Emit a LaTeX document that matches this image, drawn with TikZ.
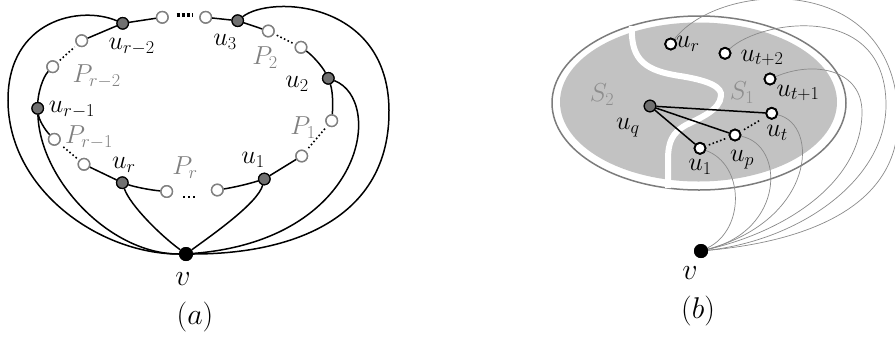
\RequirePackage{fix-cm}
\documentclass[tikz,border=0pt]{standalone}
\usepackage{tikz}
\definecolor{nodegray}{HTML}{707070}
\definecolor{pgray}{HTML}{808080}
\definecolor{sgray}{HTML}{8E8E8E}
\definecolor{regiongray}{HTML}{C2C2C2}
\definecolor{ringgray}{HTML}{7C7C7C}
\definecolor{thingray}{HTML}{8A8A8A}
\tikzset{
  openL/.style={circle, draw=pgray, fill=white, line width=1.4pt, minimum size=11.5pt, inner sep=0pt},
  filledN/.style={circle, draw=black, fill=nodegray, line width=1.2pt, minimum size=11.5pt, inner sep=0pt},
  vnode/.style={circle, fill=black, minimum size=14pt, inner sep=0pt},
  openR/.style={circle, draw=black, fill=white, line width=1.8pt, minimum size=11pt, inner sep=0pt},
  edgeB/.style={line width=1.5pt, black},
  dotB/.style={line width=1.6pt, dash pattern=on 1.6pt off 2.4pt},
  thinG/.style={line width=0.7pt, thingray},
  lab/.style={inner sep=0pt, font=\fontsize{26}{30}\selectfont},
  plab/.style={inner sep=0pt, text=pgray, font=\fontsize{26}{30}\selectfont},
  slab/.style={inner sep=0pt, text=sgray, font=\fontsize{26}{30}\selectfont},
  biglab/.style={inner sep=0pt, font=\fontsize{30}{36}\selectfont}
}
\begin{document}
\begin{tikzpicture}[x=1pt,y=-1pt]
\useasboundingbox (0,0) rectangle (895,341);
% ---------------- (a) ----------------
\node[filledN] (urm2) at (122.7,23.3) {};
\node[openL] (o1) at (162.3,17.3) {};
\node[openL] (o2) at (205.7,17.3) {};
\node[filledN] (u3) at (237.7,20.7) {};
\node[openL] (o3) at (268.3,31) {};
\node[openL] (o4) at (301,47.3) {};
\node[filledN] (u2) at (328.3,78.3) {};
\node[openL] (o5) at (331.7,120.7) {};
\node[openL] (o6) at (301.7,156) {};
\node[filledN] (u1) at (264.3,179) {};
\node[openL] (o7) at (217.3,190) {};
\node[openL] (o8) at (166.7,191.5) {};
\node[filledN] (ur) at (122.3,182.7) {};
\node[openL] (o9) at (84,164.3) {};
\node[openL] (o10) at (54.3,139.3) {};
\node[filledN] (urm1) at (37.7,108.3) {};
\node[openL] (o11) at (52.7,66.7) {};
\node[openL] (o12) at (81.7,40.7) {};
\node[vnode] (va) at (186,254) {};
\coordinate (tdA) at (176.5,15);
\coordinate (tdB) at (192,15);
\coordinate (bdA) at (183.3,196.5);
\coordinate (bdB) at (196,196.5);
% outer edges from v
\draw[edgeB] (ur) .. controls (130,205) and (160,235) .. (va);
\draw[edgeB] (u1) .. controls (258,203) and (212,235) .. (va);
\draw[edgeB] (urm1) .. controls (40,180) and (110,254) .. (va);
\draw[edgeB] (urm2) .. controls (80,5) and (8,20) .. (8,100) .. controls (8,190) and (100,254) .. (va);
\draw[edgeB] (u2) .. controls (385,100) and (365,240) .. (va);
\draw[edgeB] (u3) .. controls (270,-5) and (388,0) .. (389,110) .. controls (390,220) and (290,254) .. (va);
% cycle
\draw[edgeB] (urm2) -- (o1);
\draw[line width=3.3pt, dash pattern=on 3.3pt off 1.8pt] (tdA) -- (tdB);
\draw[edgeB] (o2) -- (u3);
\draw[edgeB] (u3) -- (o3);
\draw[dotB, shorten <=3pt, shorten >=3pt] (o3) -- (o4);
\draw[edgeB] (o4) .. controls (312,55) and (322,66) .. (u2);
\draw[edgeB] (u2) .. controls (333,92) and (333,106) .. (o5);
\draw[dotB, shorten <=4pt, shorten >=4pt] (o5) -- (o6);
\draw[edgeB] (o6) -- (u1);
\draw[edgeB] (u1) .. controls (245,185) and (230,188) .. (o7);
\draw[line width=2pt, dash pattern=on 2pt off 3pt] (bdA) -- (bdB);
\draw[edgeB] (o8) .. controls (150,190) and (135,187) .. (ur);
\draw[edgeB] (ur) -- (o9);
\draw[dotB, shorten <=3pt, shorten >=3pt] (o9) -- (o10);
\draw[edgeB] (o10) .. controls (45,130) and (39,120) .. (urm1);
\draw[edgeB] (urm1) .. controls (38,95) and (42,78) .. (o11);
\draw[dotB, shorten <=3pt, shorten >=3pt] (o11) -- (o12);
\draw[edgeB] (o12) -- (urm2);
% redraw nodes on top
\foreach \n/\s in {urm2/filledN,o1/openL,o2/openL,u3/filledN,o3/openL,o4/openL,u2/filledN,o5/openL,o6/openL,u1/filledN,o7/openL,o8/openL,ur/filledN,o9/openL,o10/openL,urm1/filledN,o11/openL,o12/openL,va/vnode}
  \node[\s] at (\n) {};
% labels (a)
\node[lab] (lurm2) at (131.7,47) {$u_{r-2}$};
\node[lab] (lu3) at (225,42) {$u_3$};
\node[lab] (lu2) at (297,84) {$u_2$};
\node[lab] (lurm1) at (72,110) {$u_{r-1}$};
\node[lab] (lur) at (124,164.5) {$u_r$};
\node[lab] (lu1) at (253,160) {$u_1$};
\node[plab] (lprm2) at (96.7,76) {$P_{r-2}$};
\node[plab] (lp2) at (265,58) {$P_2$};
\node[plab] (lp1) at (303,128) {$P_1$};
\node[plab] (lprm1) at (89,137) {$P_{r-1}$};
\node[plab] (lpr) at (185,168) {$P_r$};
\node[biglab] (lva) at (183,279) {$v$};
\node[biglab] (capa) at (195,317) {$(a)$};
% ---------------- (b) ----------------
\draw[ringgray, line width=1.5pt] (699,103) ellipse [x radius=147pt, y radius=87pt];
\fill[regiongray] (698.5,102) ellipse [x radius=138.5pt, y radius=79.5pt];
\draw[white, line width=6pt] (632,26) .. controls (630,62) and (648,71) .. (680,76) .. controls (712,81) and (722,88) .. (721,96) .. controls (720,110) and (700,118) .. (686,125) .. controls (672,133) and (668,142) .. (668,160) -- (668,188);
\node[slab] (ls2) at (602,95) {$S_2$};
\node[slab] (ls1) at (742,93) {$S_1$};
\node[filledN] (uq) at (650,106) {};
\node[openR] (ut) at (771.7,113.3) {};
\node[openR] (up) at (735,135) {};
\node[openR] (ub1) at (700,148.3) {};
\node[openR] (ut1) at (770,79) {};
\node[openR] (ut2) at (725,53.3) {};
\node[openR] (ubr) at (670.7,44) {};
\node[vnode] (vb) at (701,251) {};
% thin curves
\draw[thinG] (ub1) .. controls (745,165) and (745,230) .. (vb);
\draw[thinG] (up) .. controls (785,145) and (785,230) .. (vb);
\draw[thinG] (ut) .. controls (820,125) and (815,220) .. (vb);
\draw[thinG] (ut1) .. controls (815,60) and (862,70) .. (862,112) .. controls (862,180) and (790,230) .. (vb);
\draw[thinG] (ut2) .. controls (760,20) and (886,0) .. (886,105) .. controls (886,180) and (800,240) .. (vb);
\draw[thinG] (ubr) .. controls (720,-20) and (898,-30) .. (898,120) .. controls (898,200) and (820,240) .. (vb);
% black edges
\draw[edgeB] (uq) -- (ut);
\draw[edgeB] (uq) -- (up);
\draw[edgeB] (uq) -- (ub1);
\draw[dotB, shorten <=3pt, shorten >=3pt] (ub1) -- (up);
\draw[dotB, shorten <=4pt, shorten >=7pt] (up) -- (ut);
\foreach \n/\s in {uq/filledN,ut/openR,up/openR,ub1/openR,ut1/openR,ut2/openR,ubr/openR,vb/vnode}
  \node[\s] at (\n) {};
% labels (b)
\node[lab] (lubr) at (688,44) {$u_r$};
\node[lab] (lut2) at (762,58) {$u_{t+2}$};
\node[lab] (lut1) at (798,93) {$u_{t+1}$};
\node[lab] (lut) at (777,133) {$u_t$};
\node[lab] (lup) at (742,160) {$u_p$};
\node[lab] (lub1) at (700,167) {$u_1$};
\node[lab] (luq) at (628,128) {$u_q$};
\node[biglab] (lvb) at (690,273) {$v$};
\node[biglab] (capb) at (698,311) {$(b)$};
\end{tikzpicture}
\end{document}
